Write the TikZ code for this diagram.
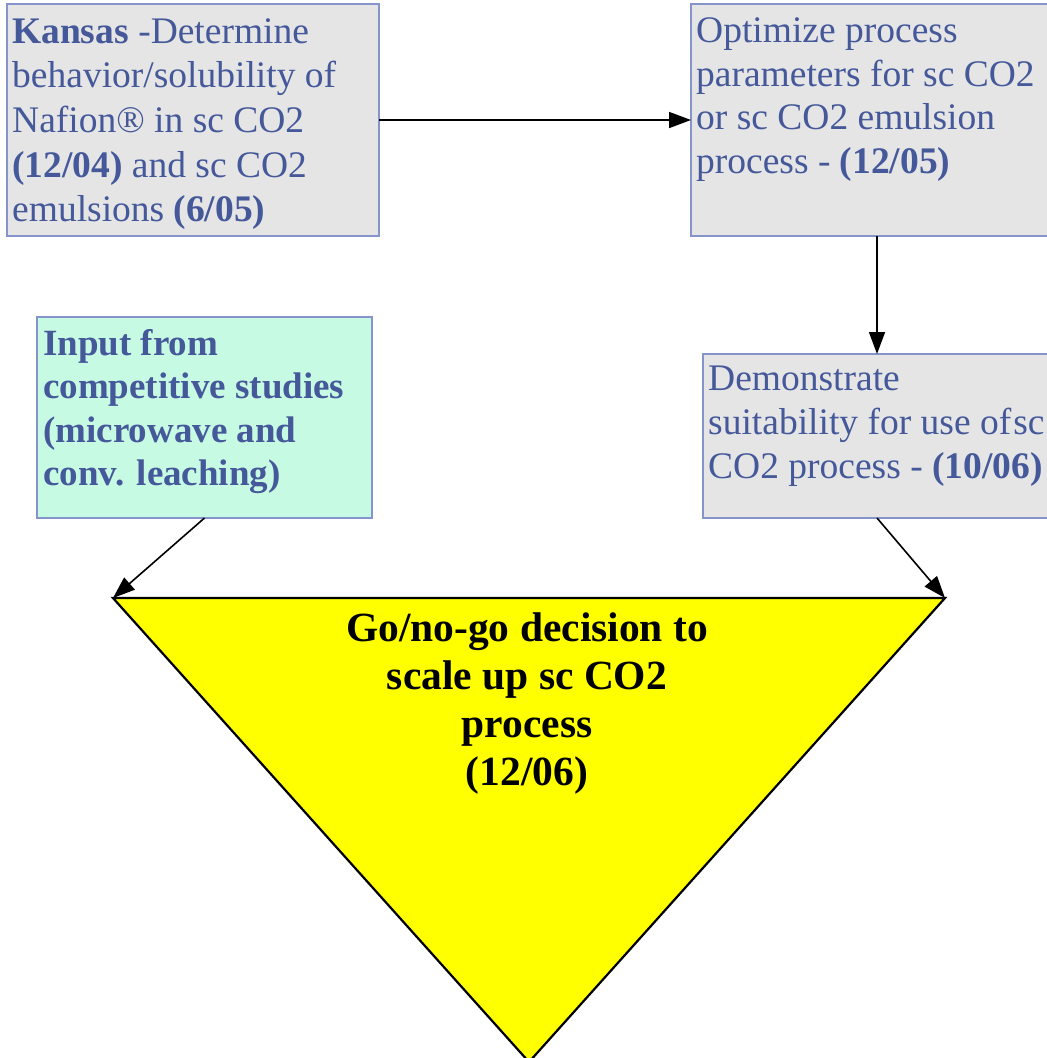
\documentclass[tikz,border=0pt]{standalone}
\usepackage{fontspec}
\setmainfont{Liberation Serif}
\usetikzlibrary{arrows.meta}
\definecolor{txtblue}{HTML}{44589A}
\definecolor{boxline}{HTML}{8595CC}
\definecolor{boxgray}{HTML}{E5E5E5}
\definecolor{boxcyan}{HTML}{C6FAE3}
\definecolor{goyellow}{HTML}{FFFF00}
\tikzset{
  box/.style={draw=boxline, line width=1.5pt, fill=boxgray, inner sep=0pt, outer sep=0pt, anchor=north west},
  txt/.style={text=txtblue, align=left, inner sep=0pt, anchor=base west, font=\fontsize{37.5}{44.6}\selectfont},
  arr/.style={draw=black, line width=1.6pt, -{Triangle[length=22pt,width=16pt]}},
  tri/.style={draw=black, line width=2.2pt, fill=goyellow, line join=miter},
  gotxt/.style={text=black, align=center, inner sep=0pt, anchor=base, font=\fontsize{41.5}{47.7}\selectfont\bfseries},
}
\begin{document}
\begin{tikzpicture}[x=1pt, y=-1pt]
\useasboundingbox (0,0) rectangle (1047,1058);
\begin{scope}
\clip (0,0) rectangle (1047,1058);
% boxes
\node[box, minimum width=372pt, minimum height=232pt] (b1) at (7,4) {};
\node[box, minimum width=372pt, minimum height=232pt] (b2) at (691,4) {};
\node[box, fill=boxcyan, minimum width=335pt, minimum height=201pt] (b3) at (37,317) {};
\node[box, minimum width=348pt, minimum height=164pt] (b4) at (703,354) {};
% triangle
\coordinate (tl) at (113,598);
\coordinate (tr) at (945,598);
\coordinate (tb) at (529,1062);
\path[tri] (tl) -- (tr) -- (tb) -- cycle;
% texts (anchored at the baseline of the last line)
\node[txt] (t1) at (12,221.7) {\textbf{Kansas} -Determine\\behavior/solubility of\\Nafion® in sc CO2\\\textbf{(12/04)} and sc CO2\\emulsions \textbf{(6/05)}};
\node[txt, font=\fontsize{37.5}{43.5}\selectfont] (t2) at (696,173.2) {Optimize process\\parameters for sc CO2\\or sc CO2 emulsion\\process - \textbf{(12/05)}};
\node[txt, font=\fontsize{37}{43.5}\selectfont\bfseries] (t3) at (43,485.5) {Input from\\competitive studies\\(microwave and\\conv. leaching)};
\node[txt, font=\fontsize{37.5}{44}\selectfont] (t4) at (708,478) {Demonstrate\\suitability for use of\hspace{2pt}sc\\CO2 process - \textbf{(10/06)}};
\node[gotxt] (t5) at (527,785) {Go/no-go decision to\\scale up sc CO2\\process\\(12/06)};
% connectors
\draw[arr] (b1.east) -- (b2.west);
\draw[arr] (b2.south) -- (b4.north);
\draw[arr] (b3.south) -- (tl);
\draw[arr] (b4.south) -- (tr);
\end{scope}
\end{tikzpicture}
\end{document}
